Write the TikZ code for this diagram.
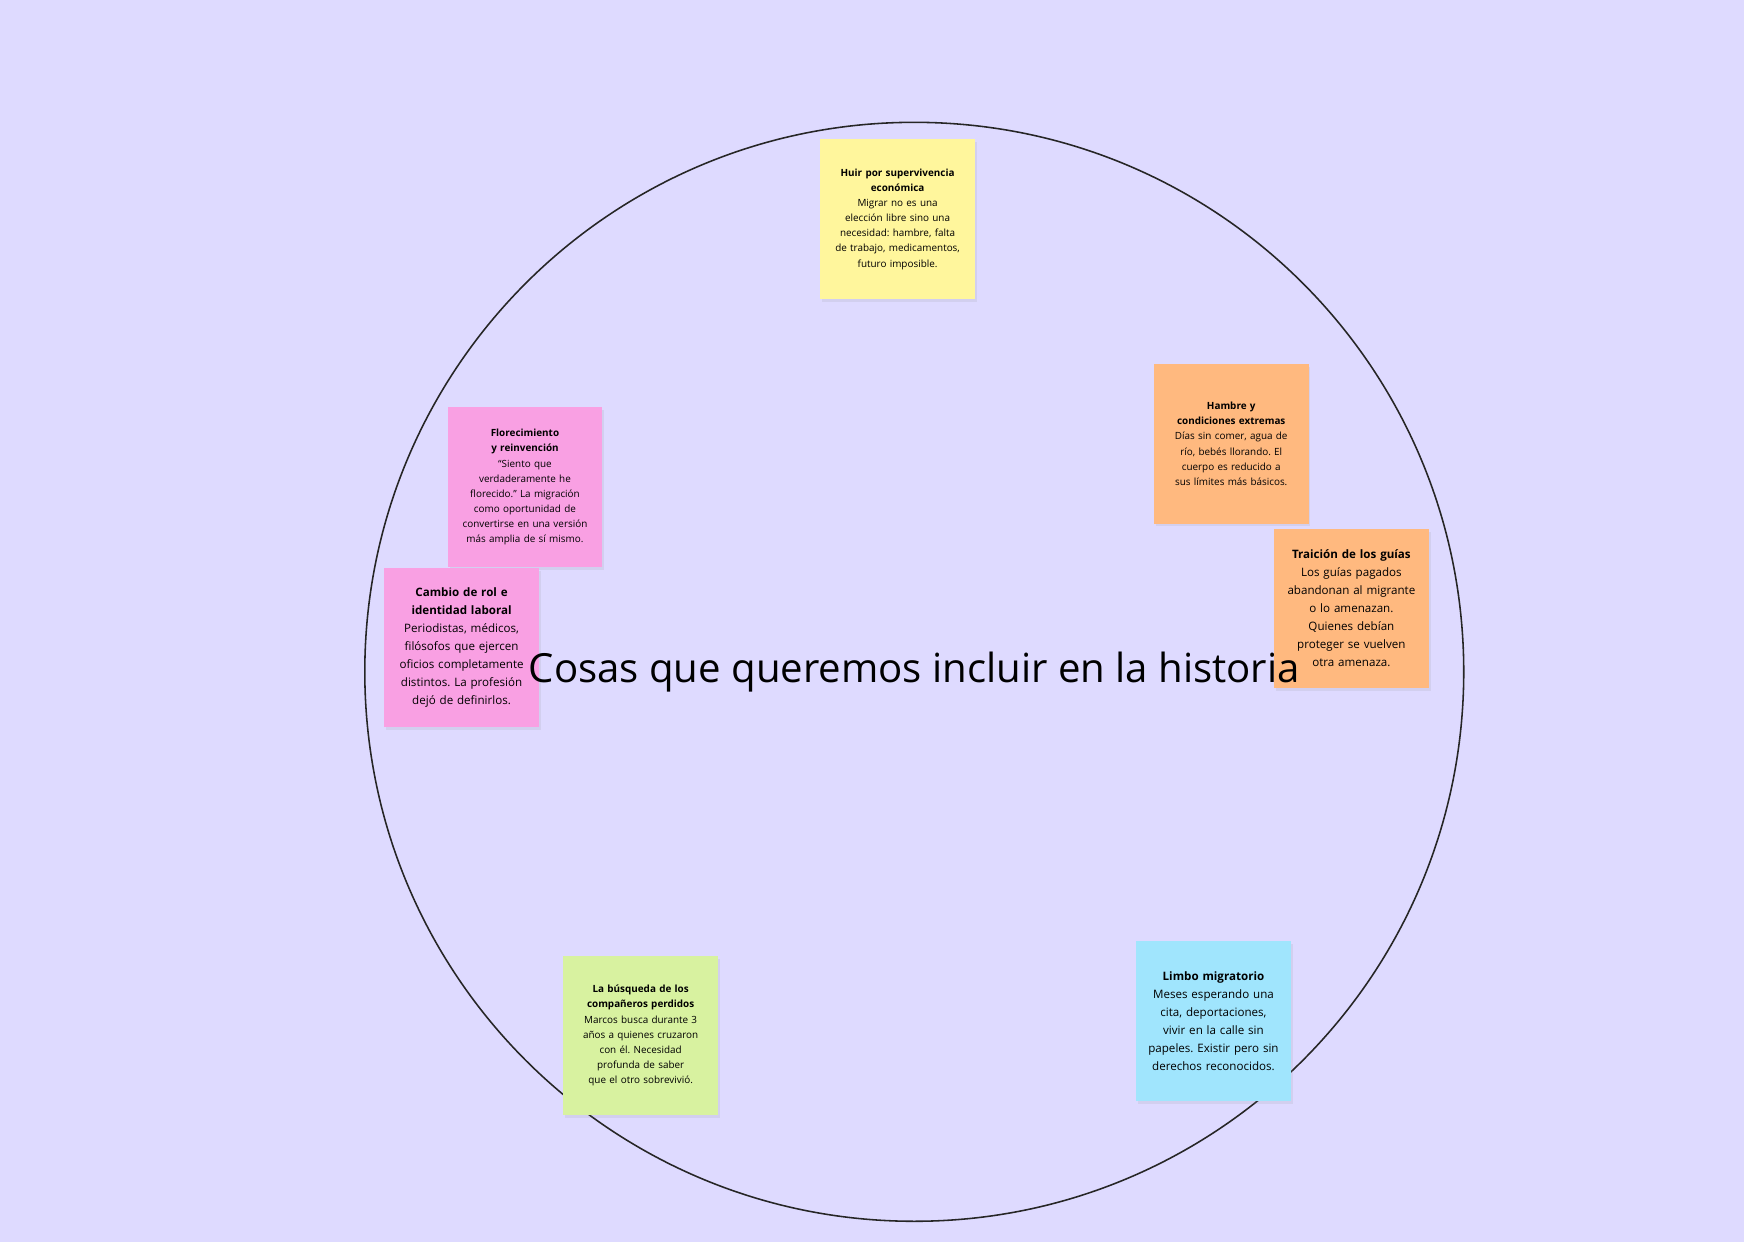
\documentclass[tikz,border=0pt]{standalone}
\usepackage{fontspec}
\setmainfont{Open Sans}
\usetikzlibrary{positioning,shadows}
\definecolor{board}{HTML}{DEDAFF}
\definecolor{noteyellow}{HTML}{FFF69C}
\definecolor{noteorange}{HTML}{FFB97F}
\definecolor{notepink}{HTML}{F9A0E3}
\definecolor{notegreen}{HTML}{D8F2A0}
\definecolor{noteblue}{HTML}{A0E5FD}
\frenchspacing
\hyphenpenalty=10000
\tikzset{
  note/.style={minimum width=4.17cm, minimum height=4.3cm, align=center,
    drop shadow={opacity=0.12, shadow xshift=0.05cm, shadow yshift=-0.08cm}},
  smallnote/.style={note, text width=3.45cm, font=\fontsize{7.6}{11.6}\selectfont},
  bignote/.style={note, text width=3.55cm, font=\fontsize{8.9}{13.8}\selectfont}
}
\begin{document}
\begin{tikzpicture}[x=0.03cm,y=-0.03cm]
    % board
    \fill[board] (0,0) rectangle (1568,1117);
    \useasboundingbox (0,0) rectangle (1568,1117);
    \draw[line width=1.2pt, black!85] (822,604) circle[radius=14.82cm];

    % notes
    \node[smallnote, fill=noteyellow] (huir) at (807,197) {\textbf{Huir por supervivencia económica}\\Migrar no es una elección libre sino una necesidad: hambre, falta de trabajo, medicamentos, futuro imposible.};
    \node[smallnote, fill=noteorange] (hambre) at (1107,399) {\textbf{Hambre y condiciones extremas}\\Días sin comer, agua de río, bebés llorando. El cuerpo es reducido a sus límites más básicos.};
    \node[bignote, fill=noteorange] (guias) at (1215,547) {\textbf{Traición de los guías}\\Los guías pagados abandonan al migrante o lo amenazan. Quienes debían proteger se vuelven otra amenaza.};
    \node[smallnote, fill=notepink] (flor) at (472,438) {\textbf{Florecimiento y reinvención}\\“Siento que verdaderamente he florecido.” La migración como oportunidad de convertirse en una versión más amplia de sí mismo.};
    \node[bignote, fill=notepink] (rol) at (415,582) {\textbf{Cambio de rol e identidad laboral}\\Periodistas, médicos, filósofos que ejercen oficios completamente distintos. La profesión dejó de definirlos.};
    \node[smallnote, fill=notegreen] (busqueda) at (576,931) {\textbf{La búsqueda de los compañeros perdidos}\\Marcos busca durante 3 años a quienes cruzaron con él. Necesidad profunda de saber que el otro sobrevivió.};
    \node[bignote, fill=noteblue] (limbo) at (1091,918) {\textbf{Limbo migratorio}\\Meses esperando una cita, deportaciones, vivir en la calle sin papeles. Existir pero sin derechos reconocidos.};

    % title on top
    \node (title) at (822,604) {\fontsize{30.8}{36}\selectfont Cosas que queremos incluir en la historia};
\end{tikzpicture}
\end{document}
